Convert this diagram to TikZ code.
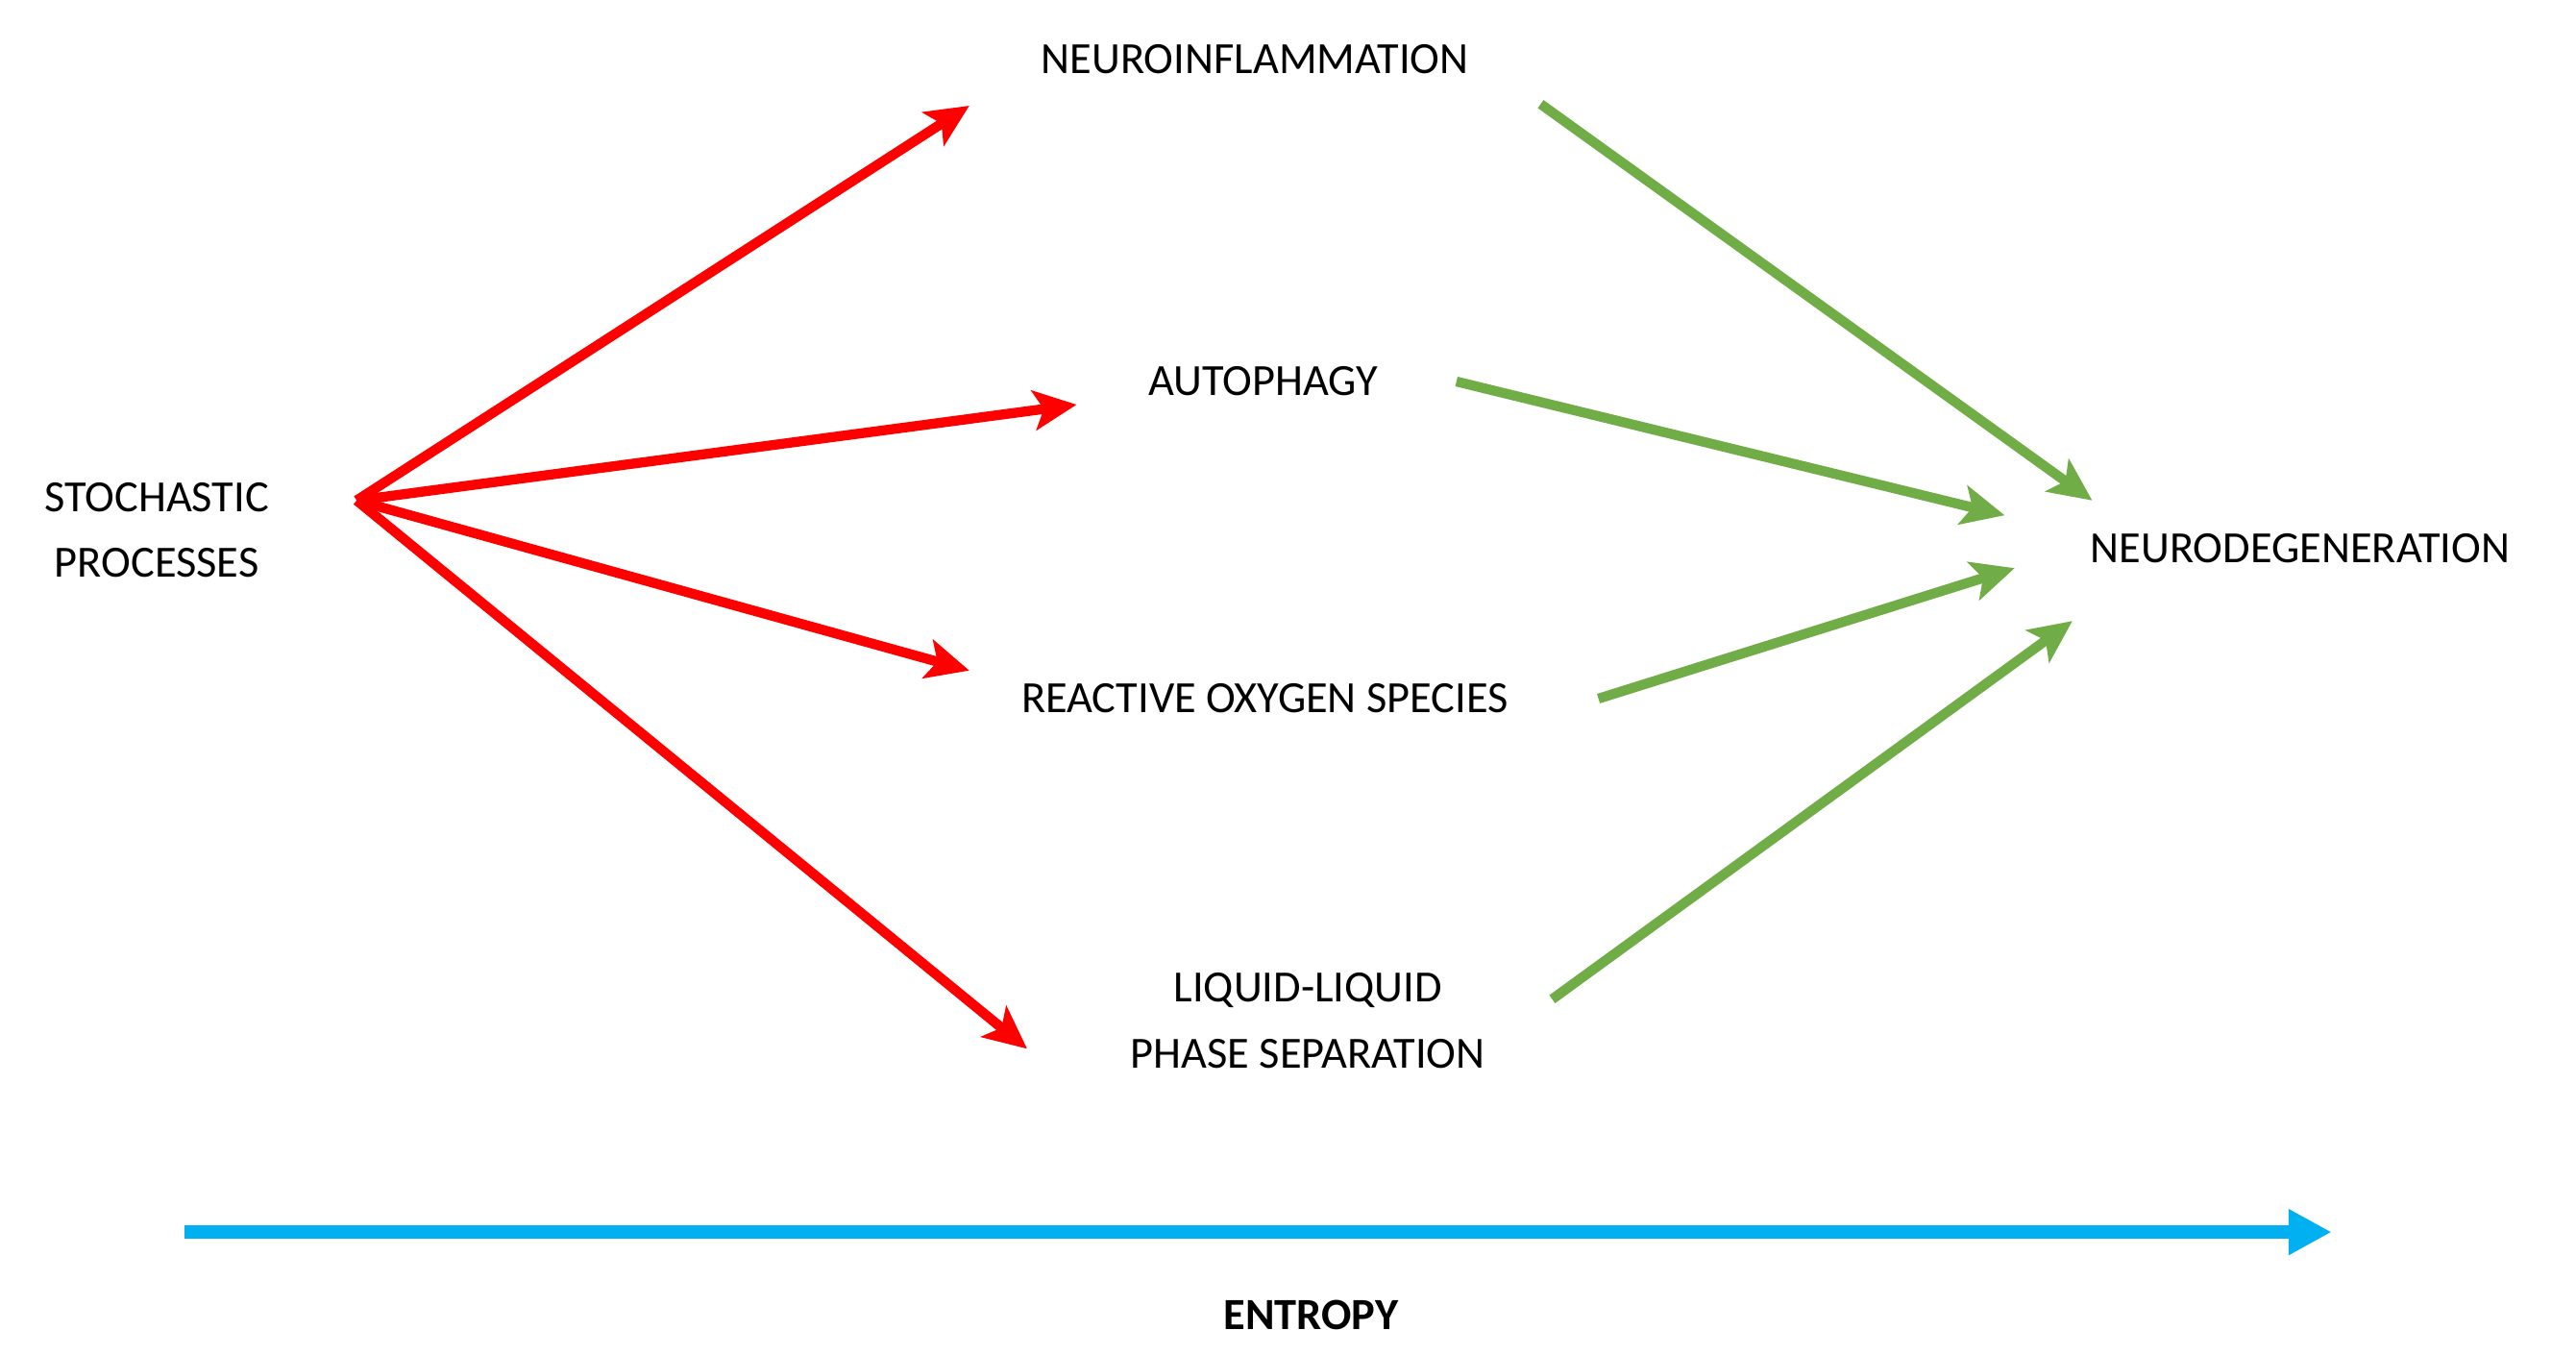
\documentclass[tikz,border=0pt]{standalone}
\usepackage{fontspec}
\setmainfont{Carlito}
\usetikzlibrary{arrows.meta}
\begin{document}
\begin{tikzpicture}[x=1pt,y=-1pt,
  lbl/.style={font=\fontsize{27}{40}\selectfont,align=center,inner sep=0},
  red/.style={draw={rgb,255:red,255;green,0;blue,0},line width=6pt,-{Stealth[length=26pt,width=24pt,inset=6pt]}},
  grn/.style={draw={rgb,255:red,112;green,173;blue,71},line width=6pt,-{Stealth[length=26pt,width=24pt,inset=6pt]}},
  blu/.style={draw={rgb,255:red,0;green,176;blue,240},line width=8pt,-{Triangle[length=26pt,width=26pt]}}]
\useasboundingbox (0,0) rectangle (1560,820);
\node[lbl] (sp) at (95,321) {STOCHASTIC\\PROCESSES};
\node[lbl] (ni) at (760,36) {NEUROINFLAMMATION};
\node[lbl] (au) at (765,231) {AUTOPHAGY};
\node[lbl] (nd) at (1393,332) {NEURODEGENERATION};
\node[lbl] (ros) at (766,423) {REACTIVE OXYGEN SPECIES};
\node[lbl] (llps) at (792,618) {LIQUID-LIQUID\\PHASE SEPARATION};
\node[lbl,font=\fontsize{27}{40}\selectfont\bfseries] (en) at (794,796) {ENTROPY};
\coordinate (s) at (216,303);
\coordinate (r1) at (587,64); \coordinate (r2) at (652,245);
\coordinate (r3) at (587,406); \coordinate (r4) at (622,635);
\coordinate (g1a) at (933,63); \coordinate (g1b) at (1267,303);
\coordinate (g2a) at (882,231); \coordinate (g2b) at (1214,312);
\coordinate (g3a) at (968,423); \coordinate (g3b) at (1220,344);
\coordinate (g4a) at (940,605); \coordinate (g4b) at (1255,376);
\coordinate (ea) at (112,746); \coordinate (eb) at (1412,746);
\draw[red] (s) -- (r1);
\draw[red] (s) -- (r2);
\draw[red] (s) -- (r3);
\draw[red] (s) -- (r4);
\draw[grn] (g1a) -- (g1b);
\draw[grn] (g2a) -- (g2b);
\draw[grn] (g3a) -- (g3b);
\draw[grn] (g4a) -- (g4b);
\draw[blu] (ea) -- (eb);
\end{tikzpicture}
\end{document}
